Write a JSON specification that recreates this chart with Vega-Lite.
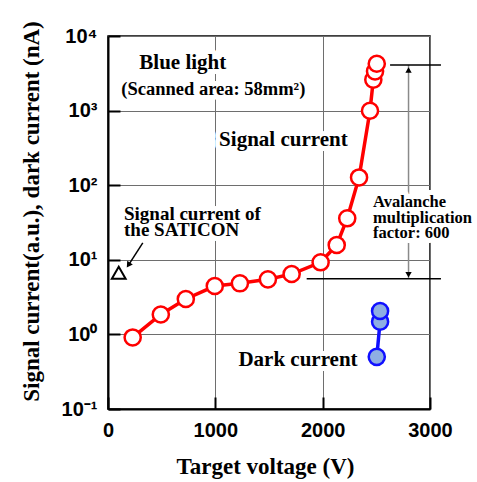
{
  "$schema": "https://vega.github.io/schema/vega-lite/v6.json",
  "width": 322,
  "height": 373,
  "autosize": {"type": "none"},
  "padding": {"left": 108, "top": 36, "right": 47, "bottom": 73},
  "background": "white",
  "config": {
    "view": {"stroke": "black", "strokeWidth": 1.5},
    "axis": {
      "grid": true,
      "gridColor": "#6e6e6e",
      "gridWidth": 1,
      "domainColor": "black",
      "domainWidth": 2,
      "tickColor": "black",
      "tickWidth": 2,
      "tickSize": -12,
      "labelPadding": 23,
      "labelFont": "Liberation Sans",
      "labelFontSize": 20,
      "labelFontWeight": "bold",
      "labelColor": "black",
      "labelFlush": false,
      "labelOverlap": false,
      "labelBound": false,
      "titleFont": "Liberation Serif",
      "titleFontSize": 23,
      "titleFontWeight": "bold",
      "titleColor": "black",
      "titleBaseline": "alphabetic",
      "titleAlign": "center",
      "zindex": 0
    }
  },
  "encoding": {
    "x": {
      "field": "v",
      "type": "quantitative",
      "scale": {"type": "linear", "domain": [0, 3000], "nice": false, "zero": false},
      "axis": {
        "values": [0, 1000, 2000, 3000],
        "format": "d",
        "title": "Target voltage (V)",
        "titleX": 157,
        "titleY": 64
      }
    },
    "y": {
      "field": "y",
      "type": "quantitative",
      "scale": {"type": "log", "domain": [0.1, 10000], "nice": false},
      "axis": {
        "values": [0.1, 1, 10, 100, 1000, 10000],
        "labelExpr": "datum.value >= 9999 ? '10⁴' : datum.value >= 999 ? '10³' : datum.value >= 99 ? '10²' : datum.value >= 9 ? '10¹' : datum.value >= 0.9 ? '10⁰' : '10⁻¹'",
        "title": "Signal current(a.u.),  dark current (nA)",
        "titleAngle": -90,
        "titleX": -70,
        "titleY": 175
      }
    }
  },
  "layer": [
    {
      "data": {"values": [{"v": 2800, "y": 5.56, "y2": 4100}]},
      "mark": {"type": "rule", "color": "#8a8a8a", "strokeWidth": 1.5},
      "encoding": {"y2": {"field": "y2"}}
    },
    {
      "data": {"values": [
        {"v": 697, "y": 3660, "label": "Blue light"},
        {"v": 1634, "y": 332, "label": "Signal current"},
        {"v": 1770, "y": 0.378, "label": "Dark current"}
      ]},
      "mark": {"type": "text", "font": "Liberation Serif", "fontWeight": "bold", "fontSize": 21, "align": "center", "baseline": "alphabetic", "fill": "white", "stroke": "white", "strokeWidth": 10, "strokeJoin": "round"},
      "encoding": {"text": {"field": "label"}}
    },
    {
      "data": {"values": [{"v": 981, "y": 1640, "label": "(Scanned area: 58mm²)"}]},
      "mark": {"type": "text", "font": "Liberation Serif", "fontWeight": "bold", "fontSize": 18.5, "align": "center", "baseline": "alphabetic", "fill": "white", "stroke": "white", "strokeWidth": 10, "strokeJoin": "round"},
      "encoding": {"text": {"field": "label"}}
    },
    {
      "data": {"values": [
        {"v": 149, "y": 34.4, "label": "Signal current of"},
        {"v": 149, "y": 21.0, "label": "the SATICON"}
      ]},
      "mark": {"type": "text", "font": "Liberation Serif", "fontWeight": "bold", "fontSize": 19, "align": "left", "baseline": "alphabetic", "fill": "white", "stroke": "white", "strokeWidth": 10, "strokeJoin": "round"},
      "encoding": {"text": {"field": "label"}}
    },
    {
      "data": {"values": [
        {"v": 2469, "y": 51.4, "label": "Avalanche"},
        {"v": 2469, "y": 31.4, "label": "multiplication"},
        {"v": 2469, "y": 19.5, "label": "factor: 600"}
      ]},
      "mark": {"type": "text", "font": "Liberation Serif", "fontWeight": "bold", "fontSize": 16.5, "align": "left", "baseline": "alphabetic", "fill": "white", "stroke": "white", "strokeWidth": 10, "strokeJoin": "round"},
      "encoding": {"text": {"field": "label"}}
    },
    {
      "data": {"values": [
        {"v": 2628, "v2": 3102, "y": 4100},
        {"v": 1851, "v2": 3102, "y": 5.56}
      ]},
      "mark": {"type": "rule", "color": "black", "strokeWidth": 1.5},
      "encoding": {"x2": {"field": "v2"}}
    },
    {
      "data": {"values": [{"v": 324, "y": 16.9, "v2": 192, "y2": 8.55}]},
      "mark": {"type": "rule", "color": "black", "strokeWidth": 1.5},
      "encoding": {"x2": {"field": "v2"}, "y2": {"field": "y2"}}
    },
    {
      "data": {"values": [{"v": 2800, "y": 3500}]},
      "mark": {"type": "point", "shape": "triangle-up", "filled": true, "color": "black", "size": 40, "opacity": 1}
    },
    {
      "data": {"values": [{"v": 2800, "y": 6.3}]},
      "mark": {"type": "point", "shape": "triangle-down", "filled": true, "color": "black", "size": 40, "opacity": 1}
    },
    {
      "data": {"values": [{"v": 190, "y": 8.5}]},
      "mark": {"type": "point", "shape": "triangle-up", "angle": 214, "filled": true, "color": "black", "size": 45, "opacity": 1}
    },
    {
      "data": {"values": [{"v": 100, "y": 6.7}]},
      "mark": {"type": "point", "shape": "triangle-up", "filled": false, "stroke": "black", "strokeWidth": 2, "size": 190, "opacity": 1}
    },
    {
      "data": {"name": "signal", "values": [
        {"v": 230, "y": 0.91}, {"v": 492, "y": 1.85}, {"v": 725, "y": 2.98},
        {"v": 995, "y": 4.45}, {"v": 1229, "y": 4.84}, {"v": 1490, "y": 5.47},
        {"v": 1711, "y": 6.45}, {"v": 1981, "y": 9.26}, {"v": 2131, "y": 15.8},
        {"v": 2229, "y": 36}, {"v": 2339, "y": 127}, {"v": 2441, "y": 995},
        {"v": 2472, "y": 2600}, {"v": 2488, "y": 3360}, {"v": 2504, "y": 4250}
      ]},
      "layer": [
        {"mark": {"type": "line", "color": "#ff0000", "strokeWidth": 3.5}, "encoding": {}},
        {"mark": {"type": "point", "shape": "circle", "filled": true, "fill": "white", "stroke": "#ff0000", "strokeWidth": 2.5, "size": 260, "opacity": 1}}
      ]
    },
    {
      "data": {"name": "dark", "values": [
        {"v": 2504, "y": 0.5}, {"v": 2535, "y": 1.48}, {"v": 2535, "y": 2.06}
      ]},
      "layer": [
        {"mark": {"type": "line", "color": "#1010ff", "strokeWidth": 3.5}, "encoding": {"order": {"field": "y", "type": "quantitative"}}},
        {"mark": {"type": "point", "shape": "circle", "filled": true, "fill": "#8eaee3", "stroke": "#1010ff", "strokeWidth": 2.5, "size": 260, "opacity": 1}}
      ]
    },
    {
      "data": {"values": [
        {"v": 697, "y": 3660, "label": "Blue light"},
        {"v": 1634, "y": 332, "label": "Signal current"},
        {"v": 1770, "y": 0.378, "label": "Dark current"}
      ]},
      "mark": {"type": "text", "font": "Liberation Serif", "fontWeight": "bold", "fontSize": 21, "align": "center", "baseline": "alphabetic", "fill": "black"},
      "encoding": {"text": {"field": "label"}}
    },
    {
      "data": {"values": [{"v": 981, "y": 1640, "label": "(Scanned area: 58mm²)"}]},
      "mark": {"type": "text", "font": "Liberation Serif", "fontWeight": "bold", "fontSize": 18.5, "align": "center", "baseline": "alphabetic", "fill": "black"},
      "encoding": {"text": {"field": "label"}}
    },
    {
      "data": {"values": [
        {"v": 149, "y": 34.4, "label": "Signal current of"},
        {"v": 149, "y": 21.0, "label": "the SATICON"}
      ]},
      "mark": {"type": "text", "font": "Liberation Serif", "fontWeight": "bold", "fontSize": 19, "align": "left", "baseline": "alphabetic", "fill": "black"},
      "encoding": {"text": {"field": "label"}}
    },
    {
      "data": {"values": [
        {"v": 2469, "y": 51.4, "label": "Avalanche"},
        {"v": 2469, "y": 31.4, "label": "multiplication"},
        {"v": 2469, "y": 19.5, "label": "factor: 600"}
      ]},
      "mark": {"type": "text", "font": "Liberation Serif", "fontWeight": "bold", "fontSize": 16.5, "align": "left", "baseline": "alphabetic", "fill": "black"},
      "encoding": {"text": {"field": "label"}}
    }
  ]
}
